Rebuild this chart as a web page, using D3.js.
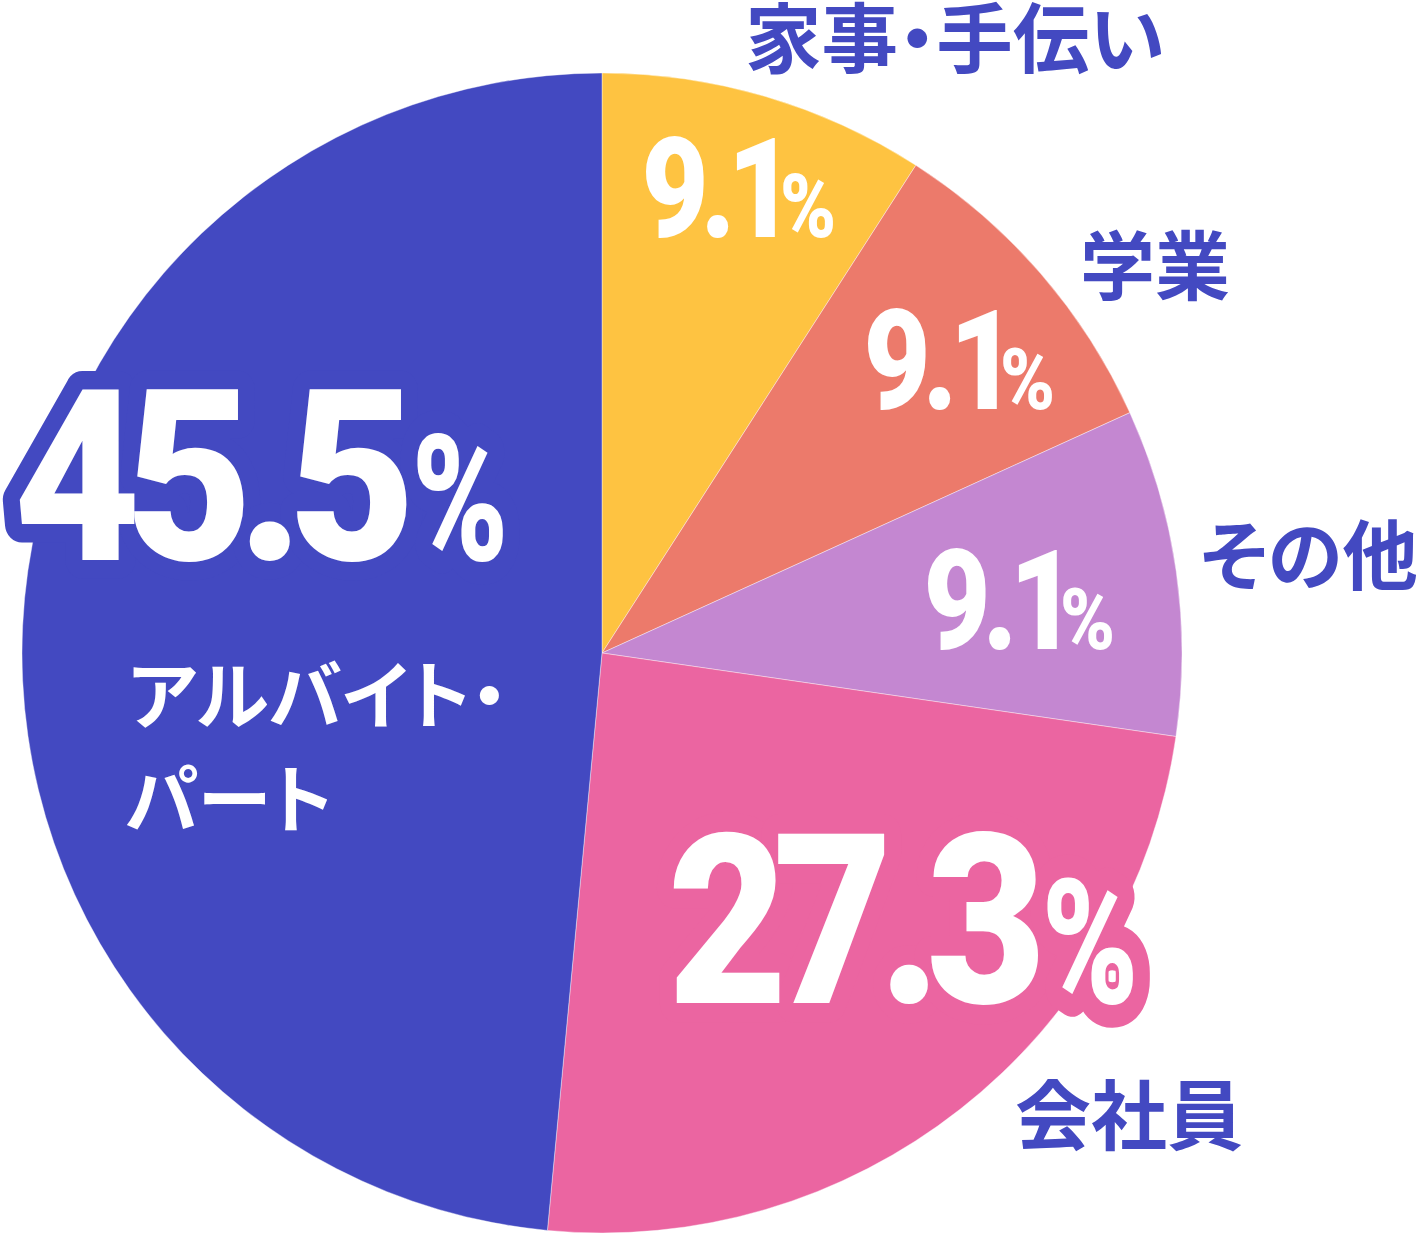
<!DOCTYPE html>
<html>
<head>
<meta charset="utf-8">
<script src="https://cdn.jsdelivr.net/npm/d3@7"></script>
<style>
  html, body { margin: 0; padding: 0; background: #fff; }
  svg { display: block; }
  .jp { font-feature-settings: "palt"; }
</style>
</head>
<body>
<svg id="chart" width="1419" height="1235"></svg>
<script>
// categories, clockwise from 12 o'clock
const categories = ["家事・手伝い", "学業", "その他", "会社員", "アルバイト・パート"];
// share of the circle each slice takes, as drawn
const sliceShares = [9.1, 9.1, 9.1, 24.2, 48.5];
// printed percentages
const percentLabels = ["9.1", "9.1", "9.1", "27.3", "45.5"];
const sliceColors = ["#FEC341", "#EC7A6B", "#C487D1", "#EB65A1", "#4349C1"];
const labelBlue = "#4349C1";

// where the label ink should land (boxes in px) - layout only
const numberBoxes = {
  "家事・手伝い": { num: [645, 775, 137, 238], pct: [783, 833, 173, 238] },
  "学業":        { num: [867, 997, 308, 410], pct: [1003, 1052, 348, 410] },
  "その他":      { num: [927, 1057, 548, 650], pct: [1063, 1112, 588, 650] },
  "会社員":      { num: [672, 1038, 831, 1005], pct: [1047, 1133, 877, 1005], outline: true },
  "アルバイト・パート": { num: [18, 407, 389, 562], pct: [417, 503, 433, 562], outline: true }
};
const nameBoxes = [
  { text: "家事・手伝い", box: [745, 1165, 3, 72], fill: labelBlue },
  { text: "学業", box: [1080, 1230, 230, 300], fill: labelBlue },
  { text: "その他", box: [1200, 1418, 520, 590], fill: labelBlue },
  { text: "会社員", box: [1015, 1243, 1078, 1152], fill: labelBlue },
  { text: "アルバイト・", box: [128, 508, 662, 727], fill: "#fff" },
  { text: "パート", box: [125, 333, 765, 830], fill: "#fff" }
];

const cx = 602, cy = 653, radius = 580;
const svg = d3.select("#chart");

const color = d3.scaleOrdinal(categories, sliceColors);
const pie = d3.pie().sort(null).value(d => d.share);
const arc = d3.arc().innerRadius(0).outerRadius(radius);

const rows = categories.map((c, i) => ({ name: c, share: sliceShares[i], label: percentLabels[i] }));

const pieG = svg.append("g").attr("transform", `translate(${cx},${cy})`);
pieG.selectAll("path")
  .data(pie(rows))
  .join("path")
  .attr("d", arc)
  .attr("fill", d => color(d.data.name))
  .attr("stroke", "#fff")
  .attr("stroke-width", 0.4);

// canvas for measuring glyph ink
const ctx = document.createElement("canvas").getContext("2d");

// lay out glyphs one by one at 100px with a tighter spacing
function layoutGlyphs(text, family, weight, spacing) {
  ctx.font = `${weight} 100px ${family}`;
  const chars = Array.from(text);
  let x = 0, asc = 0, desc = 0, inkL = Infinity, inkR = -Infinity;
  const xs = [];
  chars.forEach(ch => {
    const m = ctx.measureText(ch);
    xs.push(x);
    inkL = Math.min(inkL, x - m.actualBoundingBoxLeft);
    inkR = Math.max(inkR, x + m.actualBoundingBoxRight);
    asc = Math.max(asc, m.actualBoundingBoxAscent);
    desc = Math.max(desc, m.actualBoundingBoxDescent);
    x += m.width + spacing;
  });
  return { chars, xs, inkL, inkR, asc, desc };
}

// fit number ink into a box: height sets size, width sets horizontal squeeze
function fitSqueezed(layers, text, family, weight, spacing, box, fill, outlineColor) {
  const [x0, x1, y0, y1] = box;
  const L = layoutGlyphs(text, family, weight, spacing);
  const k = (y1 - y0) / (L.asc + L.desc);
  const fs = 100 * k;
  const sx = (x1 - x0) / ((L.inkR - L.inkL) * k);
  const baseline = y1 - L.desc * k;
  const ox = x0 - L.inkL * k * sx;
  const tf = `translate(${ox},${baseline}) scale(${sx},1)`;
  const draw = (g, isOutline) => {
    const t = g.append("text")
      .attr("transform", tf)
      .attr("font-family", family).attr("font-weight", weight).attr("font-size", fs)
      .attr("fill", isOutline ? outlineColor : fill);
    if (isOutline) {
      t.attr("stroke", outlineColor)
        .attr("stroke-width", 34 / sx)
        .attr("stroke-linejoin", "round");
    }
    t.selectAll("tspan")
      .data(L.chars)
      .join("tspan")
      .attr("x", (d, i) => L.xs[i] * k)
      .attr("y", 0)
      .text(d => d);
  };
  if (outlineColor) draw(layers.outline, true);
  draw(layers.fill, false);
}

// fit Japanese labels by width (using the rendered advance box), centred vertically
function fitPlain(g, text, family, weight, box, fill) {
  const [x0, x1, y0, y1] = box;
  const t = g.append("text")
    .attr("class", "jp")
    .attr("font-family", family).attr("font-weight", weight).attr("font-size", 100)
    .attr("fill", fill)
    .text(text);
  const bb = t.node().getBBox();
  const k = (x1 - x0) / bb.width;
  ctx.font = `${weight} 100px ${family}`;
  const m = ctx.measureText(text);
  const midY = (y0 + y1) / 2;
  const baseline = midY + (m.actualBoundingBoxAscent - m.actualBoundingBoxDescent) * k / 2;
  t.attr("font-size", 100 * k)
    .attr("x", x0 - bb.x * k)
    .attr("y", baseline);
}

const numFont = "Roboto";
const layers = { outline: svg.append("g"), fill: svg.append("g") };
rows.forEach(r => {
  const b = numberBoxes[r.name];
  const oc = b.outline ? color(r.name) : null;
  fitSqueezed(layers, r.label, numFont, 900, -7, b.num, "#fff", oc);
  fitSqueezed(layers, "%", numFont, 900, 0, b.pct, "#fff", oc);
});

const nameG = svg.append("g");
const jpFont = "'Noto Sans CJK JP'";
nameBoxes.forEach(n => fitPlain(nameG, n.text, jpFont, 700, n.box, n.fill));
</script>
</body>
</html>
